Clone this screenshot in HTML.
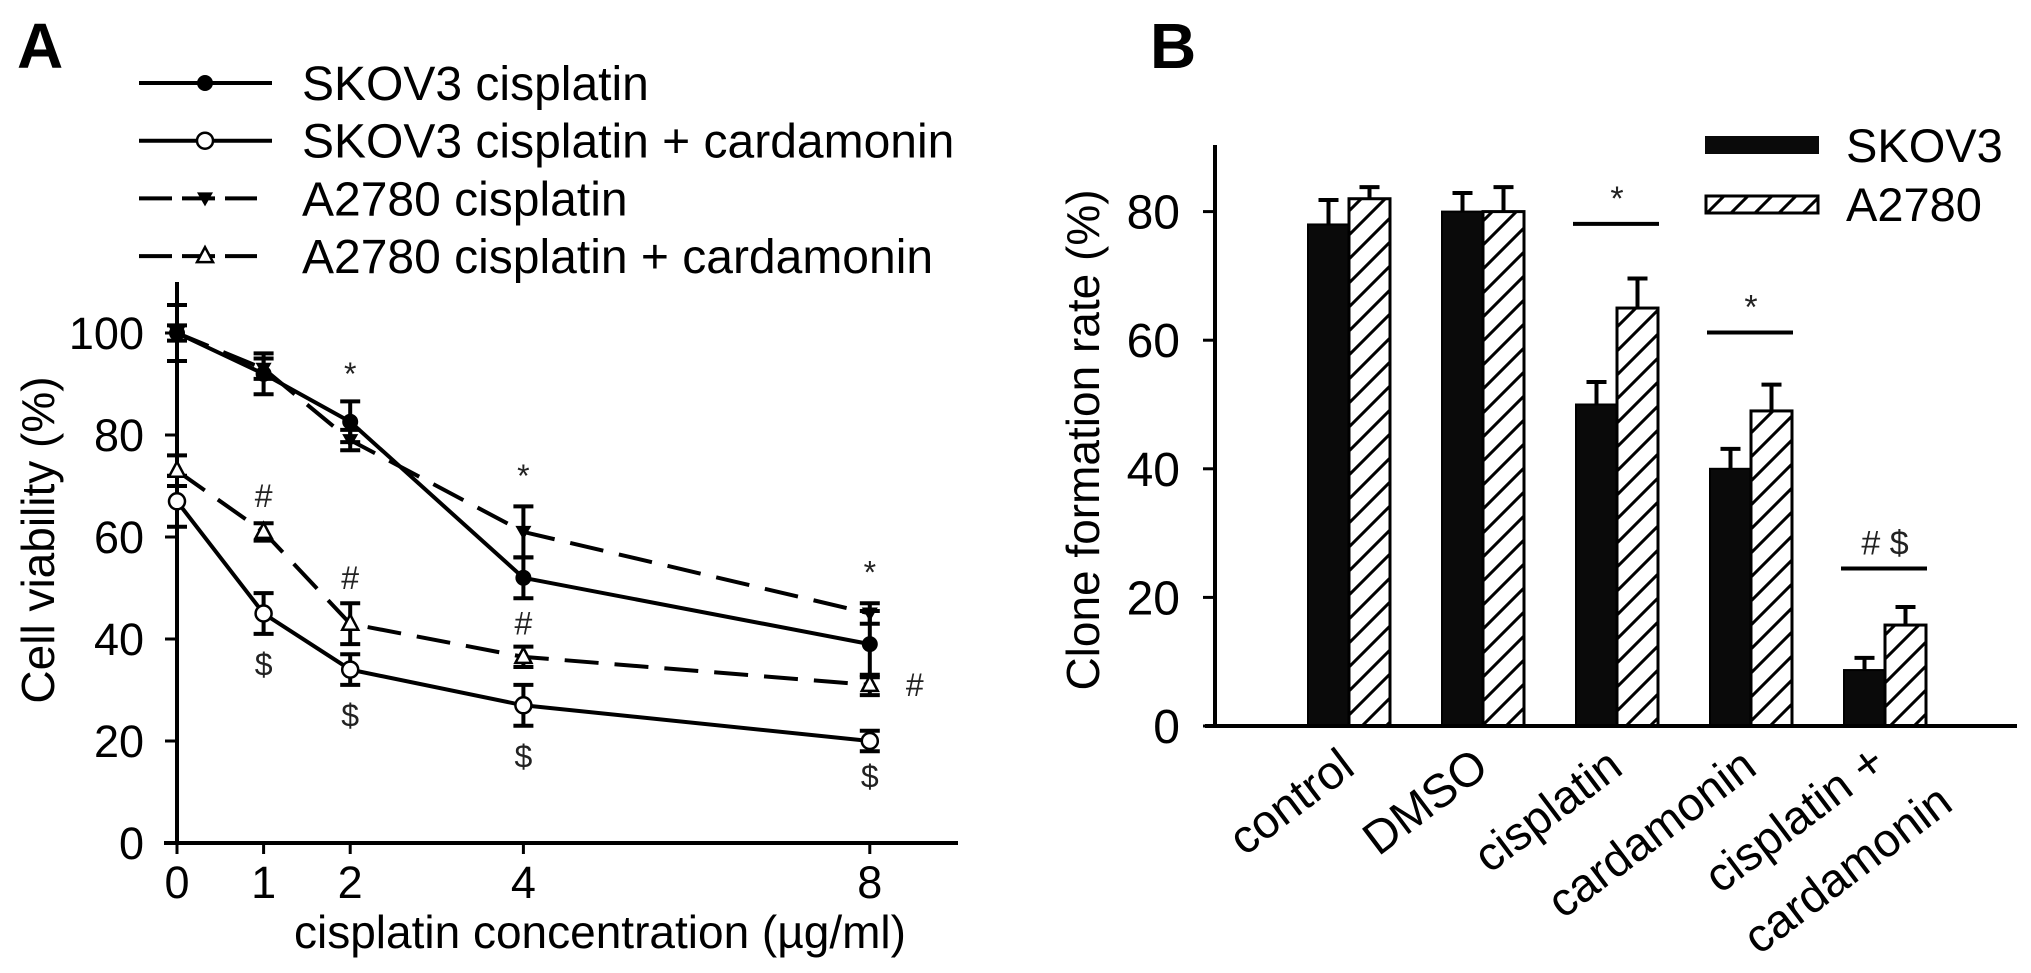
<!DOCTYPE html>
<html><head><meta charset="utf-8"><style>
html,body{margin:0;padding:0;background:#fff;}
svg{display:block;font-family:"Liberation Sans",Arial,sans-serif;}
</style></head><body>
<svg id="fig" width="2031" height="973" viewBox="0 0 2031 973" xmlns="http://www.w3.org/2000/svg">
<defs>
<pattern id="hatch" patternUnits="userSpaceOnUse" width="24" height="24">
<path d="M-6,6 L6,-6 M0,24 L24,0 M18,30 L30,18" stroke="#000" stroke-width="3"/>
</pattern>
</defs>
<text x="17" y="68" font-size="64" font-weight="bold">A</text>
<text x="1150" y="68" font-size="64" font-weight="bold">B</text>
<g id="gA"></g>
<g id="gB"></g>
</svg>
<script>
// ---------- Panel A data ----------
const concs = [0, 1, 2, 4, 8];
const skovCis = [100, 92, 82.6, 52, 39];
const skovCisErr = [1.5, 4, 4, 4, 6.5];
const skovCard = [67, 45, 34, 27, 20];
const skovCardErr = [5, 4, 3, 4, 2];
const a27Cis = [100, 93, 79, 61, 45];
const a27CisErr = [5.5, 2, 2, 5, 2];
const a27Card = [73, 61, 43, 36.5, 31];
const a27CardErr = [3, 1.7, 4, 2, 2];
const yTicksA = [0, 20, 40, 60, 80, 100];
const legendA = ["SKOV3 cisplatin", "SKOV3 cisplatin + cardamonin", "A2780 cisplatin", "A2780 cisplatin + cardamonin"];
const annA = [["*",2,92],["*",4,72],["*",8,53],["#",1,68],["#",2,52],["#",4,43],["#",8.52,31],["$",1,35],["$",2,25],["$",4,17],["$",8,13]];
// ---------- Panel B data ----------
const catsB = [["control"], ["DMSO"], ["cisplatin"], ["cardamonin"], ["cisplatin +", "cardamonin"]];
const skovB = [78, 80, 50, 40, 8.7];
const skovBErr = [3.8, 2.9, 3.5, 3.1, 1.9];
const a27B = [82, 80, 65, 49, 15.7];
const a27BErr = [1.8, 3.8, 4.6, 4.1, 2.8];
const yTicksB = [0, 20, 40, 60, 80];
const sigB = [[2, 69.6 + 8.5, "*"], [3, 53.2 + 8, "*"], [4, 18.5 + 6, "#  $"]];

const NS = "http://www.w3.org/2000/svg";
function mk(parent, tag, attrs, text) {
  const e = document.createElementNS(NS, tag);
  for (const k in attrs) e.setAttribute(k, attrs[k]);
  if (text !== undefined) e.textContent = text;
  parent.appendChild(e);
  return e;
}
// ---------- Panel A ----------
const gA = document.getElementById("gA");
const xA = c => 177 + c * 86.6;
const yA = v => 843 - v * 5.1;
let el;
el = mk(gA, "line", {x1: 177, y1: 282, x2: 177, y2: 845, stroke: "#000", "stroke-width": 4});


el = mk(gA, "line", {x1: 164, y1: 843, x2: 958, y2: 843, stroke: "#000", "stroke-width": 4});


yTicksA.forEach(t => {
  el = mk(gA, "line", {x1: 165, y1: yA(t), x2: 177, y2: yA(t), stroke: "#000", "stroke-width": 3});
  
  
  el = mk(gA, "text", {x: 144, y: yA(t) + 16, "font-size": 45, "text-anchor": "end"}, String(t));
  
  
});
concs.forEach(c => {
  el = mk(gA, "line", {x1: xA(c), y1: 843, x2: xA(c), y2: 854, stroke: "#000", "stroke-width": 3});
  
  
  el = mk(gA, "text", {x: xA(c), y: 898, "font-size": 45, "text-anchor": "middle"}, String(c));
  
  
});
el = mk(gA, "text", {x: 600, y: 948, "font-size": 46, "text-anchor": "middle"}, "cisplatin concentration (\u00b5g/ml)");


el = mk(gA, "text", {x: 0, y: 0, "font-size": 46, "text-anchor": "middle", transform: "translate(54,540) rotate(-90)"}, "Cell viability (%)");



const seriesA = [
  {v: skovCis, e: skovCisErr, dash: "", m: "fcircle"},
  {v: skovCard, e: skovCardErr, dash: "", m: "ocircle"},
  {v: a27Cis, e: a27CisErr, dash: "34 16", m: "ftri"},
  {v: a27Card, e: a27CardErr, dash: "34 16", m: "otri"}
];
function marker(g, m, x, y) {
  let e;
  if (m === "fcircle") e = mk(g, "circle", {cx: x, cy: y, r: 7, fill: "#000", stroke: "#000", "stroke-width": 2});
  else if (m === "ocircle") e = mk(g, "circle", {cx: x, cy: y, r: 8, fill: "#fff", stroke: "#000", "stroke-width": 2.5});
  else if (m === "ftri") e = mk(g, "path", {d: `M${x-8},${y-6} L${x+8},${y-6} L${x},${y+8} Z`, fill: "#000"});
  else e = mk(g, "path", {d: `M${x-8},${y+6} L${x+8},${y+6} L${x},${y-9} Z`, fill: "#fff", stroke: "#000", "stroke-width": 2.5});
  return e;
}
seriesA.forEach((s, si) => {
  const pts = concs.map((c, i) => xA(c) + "," + yA(s.v[i])).join(" ");
  el = mk(gA, "polyline", {points: pts, fill: "none", stroke: "#000", "stroke-width": 4, "stroke-dasharray": s.dash});
  
  
  concs.forEach((c, i) => {
    const x = xA(c), y1 = yA(s.v[i] + s.e[i]), y2 = yA(s.v[i] - s.e[i]);
    el = mk(gA, "path", {d: `M${x},${y1} L${x},${y2} M${x-10},${y1} L${x+10},${y1} M${x-10},${y2} L${x+10},${y2}`, stroke: "#000", "stroke-width": 4, fill: "none"});
    
    
    el = marker(gA, s.m, x, yA(s.v[i]));
    
    
  });
});
annA.forEach(a => {
  el = mk(gA, "text", {x: xA(a[1]), y: yA(a[2]) + 11, "font-size": 32, "text-anchor": "middle", fill: "#222"}, a[0]);
  
  
});
legendA.forEach((t, i) => {
  const y = 83 + i * 57.7;
  const g = mk(gA, "g", {});
  
  
  if (i < 2) mk(g, "line", {x1: 139, y1: y, x2: 272, y2: y, stroke: "#000", "stroke-width": 4});
  else mk(g, "path", {d: `M139,${y} L172,${y} M182,${y} L215,${y} M225,${y} L257,${y}`, stroke: "#000", "stroke-width": 4});
  marker(g, seriesA[i].m, 205, y);
  mk(g, "text", {x: 302, y: y + 17, "font-size": 48}, t);
});
// ---------- Panel B ----------
const gB = document.getElementById("gB");
const yB = v => 726 - v * 6.43;
const cB = i => 1349 + i * 134;
const BW = 41;
el = mk(gB, "line", {x1: 1215, y1: 145, x2: 1215, y2: 728, stroke: "#000", "stroke-width": 4});


yTicksB.forEach(t => {
  el = mk(gB, "text", {x: 1180, y: yB(t) + 17, "font-size": 48, "text-anchor": "end"}, String(t));
  
  
  el = mk(gB, "line", {x1: 1203, y1: yB(t), x2: 1215, y2: yB(t), stroke: "#000", "stroke-width": 3});
  
  
});
el = mk(gB, "text", {x: 0, y: 0, "font-size": 46, "text-anchor": "middle", transform: "translate(1099,440) rotate(-90)"}, "Clone formation rate (%)");


catsB.forEach((lines, i) => {
  const x = cB(i);
  el = mk(gB, "rect", {x: x - BW, y: yB(skovB[i]), width: BW, height: yB(0) - yB(skovB[i]), fill: "#0a0a0a", stroke: "#000", "stroke-width": 2});
  
  
  el = mk(gB, "rect", {x: x, y: yB(a27B[i]), width: BW, height: yB(0) - yB(a27B[i]), fill: "url(#hatch)", stroke: "#000", "stroke-width": 3});
  
  
  [[x - BW / 2, skovB[i], skovBErr[i]], [x + BW / 2, a27B[i], a27BErr[i]]].forEach(p => {
    const t = yB(p[1] + p[2]), b = yB(p[1]);
    el = mk(gB, "path", {d: `M${p[0]},${b} L${p[0]},${t} M${p[0]-10},${t} L${p[0]+10},${t}`, stroke: "#000", "stroke-width": 4, fill: "none"});
    
    
  });
  if (lines.length === 1) {
    el = mk(gB, "text", {x: 0, y: 0, "font-size": 47, "text-anchor": "end", transform: `translate(${x + 8},772) rotate(-37)`}, lines[0]);
    
    
  } else {
    el = mk(gB, "text", {x: 0, y: 0, "font-size": 47, "text-anchor": "end", transform: `translate(${x + 3},768) rotate(-37)`}, lines[0]);
    
    
    el = mk(gB, "text", {x: 0, y: 0, "font-size": 47, "text-anchor": "end", transform: `translate(${x + 70},808) rotate(-37)`}, lines[1]);
    
    
  }
});
el = mk(gB, "line", {x1: 1205, y1: 726, x2: 2017, y2: 726, stroke: "#000", "stroke-width": 4});


sigB.forEach(s => {
  const x = cB(s[0]), y = yB(s[1]);
  el = mk(gB, "line", {x1: x - 44, y1: y, x2: x + 42, y2: y, stroke: "#000", "stroke-width": 4});
  
  
  el = mk(gB, "text", {x: x, y: y - 14, "font-size": 34, "text-anchor": "middle", fill: "#222", "xml:space": "preserve"}, s[2]);
  
  
});
let lg = mk(gB, "g", {});


mk(lg, "rect", {x: 1705, y: 136, width: 114, height: 18, fill: "#0a0a0a"});
mk(lg, "text", {x: 1846, y: 162, "font-size": 47}, "SKOV3");
lg = mk(gB, "g", {});


mk(lg, "rect", {x: 1706, y: 196, width: 112, height: 17, fill: "url(#hatch)", stroke: "#000", "stroke-width": 3});
mk(lg, "text", {x: 1846, y: 221, "font-size": 47}, "A2780");
</script>
</body></html>
